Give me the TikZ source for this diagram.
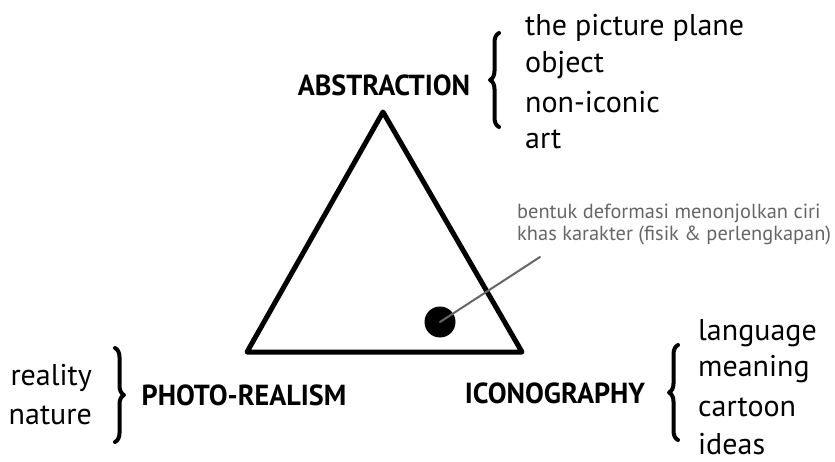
\documentclass[tikz,border=0pt]{standalone}
\usepackage{fontspec}
\setmainfont{PT Sans}
\usetikzlibrary{decorations.pathreplacing,positioning}
\begin{document}
\begin{tikzpicture}[x=1pt,y=-1pt,line join=round,line cap=round]
	\tikzset{head/.style={font=\fontsize{29}{32}\selectfont\bfseries,inner sep=0pt},
		item/.style={font=\fontsize{30}{32}\selectfont,inner sep=0pt},
		curly/.style={decorate,decoration={brace,amplitude=9pt},line width=4pt},
		note/.style={font=\fontsize{20.4}{22}\selectfont,text=black!60,align=left,inner sep=0pt,anchor=west}}
	\useasboundingbox (0,0) rectangle (835,462);
	% triangle
	\coordinate (top) at (383,112);
	\coordinate (bl) at (247,352);
	\coordinate (br) at (522,352);
	\draw[line width=5] (top)--(bl)--(br)--cycle;
	\node[circle,fill,minimum size=31,inner sep=0pt] (dot) at (440,322) {};
	\node[note] (note) at (517,225) {bentuk deformasi menonjolkan ciri\\khas karakter (fisik \& perlengkapan)};
	\coordinate (tail) at (540,257);
	\draw[black!60,line width=2] (dot.center)--(tail);
	% corners
	\node[head] (abs) at (384,85) {\scalebox{0.97}[1]{ABSTRACTION}};
	\node[head] (photo) at (244,395) {\scalebox{0.97}[1]{PHOTO-REALISM}};
	\node[head] (icon) at (555,393) {\scalebox{0.97}[1]{ICONOGRAPHY}};
	% braces
	\coordinate (a1) at (499,127); \coordinate (a2) at (499,33);
	\draw[curly] (a1)--(a2);
	\coordinate (p1) at (115,348); \coordinate (p2) at (115,442);
	\draw[curly] (p1)--(p2);
	\coordinate (i1) at (678,440); \coordinate (i2) at (678,345);
	\draw[curly] (i1)--(i2);
	% lists
	\foreach \t/\y [count=\k] in {the picture plane/28,object/65,non-iconic/102,art/139}
	\node[item,anchor=west] (abs\k) at (525,\y) {\t};
	\foreach \t/\y [count=\k] in {reality/378,nature/415}
	\node[item,anchor=east] (photo\k) at (92,\y) {\t};
	\foreach \t/\y [count=\k] in {language/333,meaning/369,cartoon/407,ideas/444}
	\node[item,anchor=west] (icon\k) at (698,\y) {\t};
\end{tikzpicture}
\end{document}
